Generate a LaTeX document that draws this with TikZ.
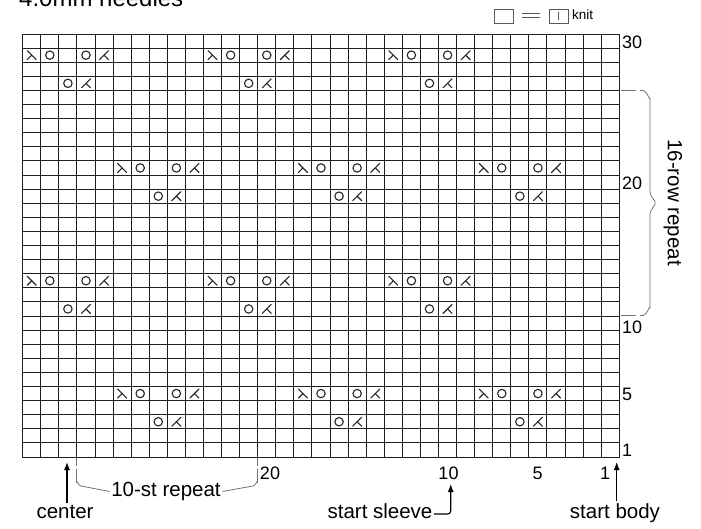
\documentclass[tikz,border=0pt]{standalone}
\usepackage{fontspec}
\setmainfont{Liberation Sans}
\usetikzlibrary{arrows.meta}
\begin{document}
\begin{tikzpicture}[x=1pt,y=-1pt,
  gridl/.style={line width=1.6pt, black!88, line cap=rect},
  sym/.style={line width=1.1pt, black!85, line cap=round},
  brc/.style={line width=0.8pt, black!55},
  leg/.style={line width=0.7pt, black!65},
  arr/.style={line width=1.1pt, black, -{Latex[length=8pt,width=6pt]}},
  lab/.style={font=\fontsize{20.5}{24}\selectfont, inner sep=1.5pt},
  num/.style={font=\fontsize{18}{21}\selectfont, inner sep=0pt},
  pics/ssk/.style={code={\draw[sym] (-4.5,-4.5) -- (4.5,4.5); \draw[sym] (0,0) -- (-4.5,4.5);}},
  pics/ktog/.style={code={\draw[sym] (4.5,-4.5) -- (-4.5,4.5); \draw[sym] (0,0) -- (4.5,4.5);}},
  pics/yo/.style={code={\draw[sym] (0,0) circle[radius=4.2pt];}}
]
\fill[white] (0,0) rectangle (701,529);
\useasboundingbox (0,0) rectangle (701,529);

% title (partly cut off at top, as in the reference)
\node[anchor=base west, font=\fontsize{24}{28}\selectfont, inner sep=0pt] (title) at (19,7) {4.0mm needles};

% legend
\draw[leg] (494,9) rectangle (513,23);
\draw[leg] (522,13) -- (540,13) (522,17.5) -- (540,17.5);
\draw[leg] (549,9) rectangle (568,23);
\draw[leg] (558.5,12) -- (558.5,20);
\node[anchor=base west, font=\fontsize{13.5}{16}\selectfont, inner sep=0pt] (knit) at (572,19.5) {knit};

% grid (lines snapped to pixel centres)
\foreach \i in {0,...,33}{
  \pgfmathsetmacro\gx{floor(22.7+\i*18.0788)+0.5}
  \draw[gridl] (\gx,34.5) -- (\gx,457.5);
}
\foreach \j in {0,...,30}{
  \pgfmathsetmacro\gy{floor(34+\j*14.1)+0.5}
  \draw[gridl] (22.5,\gy) -- (619.5,\gy);
}

% symbols: full groups
\foreach \r/\c in {5/8,5/18,5/28,21/8,21/18,21/28,13/13,13/23,13/33,29/13,29/23,29/33}{
  \begin{scope}[shift={({619.3-(\c-0.5)*18.0788},{457-(\r-0.5)*14.1})}]
    \pic at (0,0) {ssk};
    \pic at (18.0788,0) {yo};
    \pic at ({3*18.0788},0) {yo};
    \pic at ({4*18.0788},0) {ktog};
  \end{scope}
}
% symbols: half groups
\foreach \r/\c in {3/6,3/16,3/26,19/6,19/16,19/26,11/11,11/21,11/31,27/11,27/21,27/31}{
  \begin{scope}[shift={({619.3-(\c-0.5)*18.0788},{457-(\r-0.5)*14.1})}]
    \pic at (0,0) {yo};
    \pic at (18.0788,0) {ktog};
  \end{scope}
}

% row numbers
\node[num, anchor=base west] (r30) at (622,48.5) {30};
\node[num, anchor=base west] (r20) at (622,190) {20};
\node[num, anchor=base west] (r10) at (622,333) {10};
\node[num, anchor=base west] (r5) at (622,400.5) {5};
\node[num, anchor=base west] (r1) at (622,456) {1};

% column numbers
\node[num, anchor=base] (c20) at (270,479) {20};
\node[num, anchor=base] (c10) at (448.5,479) {10};
\node[num, anchor=base] (c5) at (537.5,479) {5};
\node[num, anchor=base] (c1) at (605,479) {1};

% right brace: 16-row repeat
\draw[brc, dash pattern=on 15pt off 4pt] (620.5,90.5) -- (643,90.5);
\draw[brc] (643,90.5) to[out=0,in=-90] (650,98);
\draw[brc, rounded corners=2pt] (650,98) -- (650,194) -- (656,203) -- (650,212) -- (650,308);
\draw[brc] (650,308) to[out=90,in=0] (643,315.5);
\draw[brc, dash pattern=on 15pt off 4pt] (620.5,315.5) -- (643,315.5);
\node[lab, rotate=-90] (rrep) at (673,202.5) {16-row repeat};

% bottom brace: 10-st repeat
\node[lab, anchor=base] (rep) at (166,496.5) {10-st repeat};
\draw[brc] (76.5,458) -- (76.5,465.5);
\draw[brc] (76.5,468.5) -- (76.5,482) to[out=90,in=180] (81,486) -- (rep.west);
\draw[brc] (257.5,458) -- (257.5,465.5);
\draw[brc] (257.5,468.5) -- (257.5,482) to[out=90,in=0] (253,486) -- (rep.east);

% arrows and labels
\node[lab, anchor=base] (ctr) at (65,518) {center};
\node[lab, anchor=base] (sslv) at (380,518) {start sleeve};
\node[lab, anchor=base] (sbody) at (615,518) {start body};
\coordinate (ctrtip) at (67,462);
\coordinate (sbtip) at (616.7,462);
\coordinate (sstip) at (450.7,484);
\coordinate (sscorner) at (450.7,514);
\draw[arr] (ctr.north -| ctrtip) -- (ctrtip);
\draw[arr] (sbody.north -| sbtip) -- (sbtip);
\draw[arr, rounded corners=3pt] (sslv.east |- sscorner) -- (sscorner) -- (sstip);
\end{tikzpicture}
\end{document}
